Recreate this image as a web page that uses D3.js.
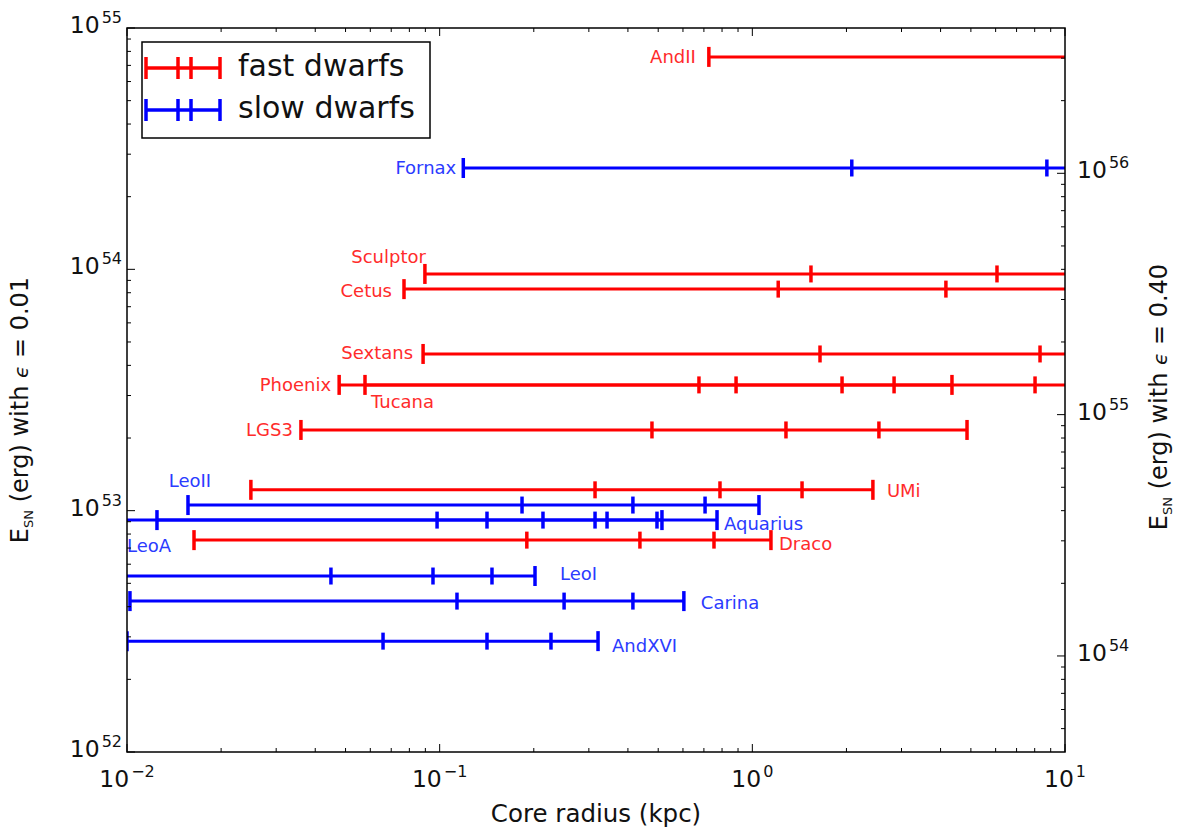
<!DOCTYPE html>
<html><head><meta charset="utf-8">
<script src="https://cdn.jsdelivr.net/npm/d3@7"></script>
<style>
body{margin:0;background:#fff}
text{font-family:"DejaVu Sans",sans-serif}
</style>
</head><body>
<svg id="c" width="1184" height="828"></svg>
<script>
// ---------------- data ----------------
const dwarfNames = ["AndII","Fornax","Sculptor","Cetus","Sextans","Phoenix","Tucana","LGS3","UMi","LeoII","LeoA","Aquarius","Draco","LeoI","Carina","AndXVI"];
const dwarfGroup = ["fast","slow","fast","fast","fast","fast","fast","fast","fast","slow","slow","slow","fast","slow","slow","slow"];
// E_SN (erg) with epsilon = 0.01
const energyEps001 = [7.59e54,2.63e54,9.57e53,8.28e53,4.46e53,3.32e53,3.32e53,2.16e53,1.22e53,1.055e53,9.14e52,9.14e52,7.55e52,5.36e52,4.22e52,2.88e52];
// core radius markers (kpc)
const coreRadii = [
  [0.726, 12],
  [0.119, 2.08, 8.75, 12],
  [0.0897, 1.54, 6.06, 12],
  [0.0769, 1.21, 4.16, 12],
  [0.0885, 1.646, 8.32, 12],
  [0.0477, 0.675, 1.936, 4.35],
  [0.0577, 0.887, 2.84, 8.02, 12],
  [0.036, 0.4775, 1.281, 2.54, 4.86],
  [0.0249, 0.314, 0.788, 1.442, 2.43],
  [0.01567, 0.1834, 0.415, 0.706, 1.05],
  [0.008, 0.0981, 0.214, 0.343, 0.514],
  [0.01247, 0.1417, 0.314, 0.4955, 0.771],
  [0.01638, 0.190, 0.437, 0.754, 1.147],
  [0.008, 0.0449, 0.0952, 0.147, 0.2018],
  [0.01022, 0.1136, 0.25, 0.415, 0.604],
  [0.01, 0.0659, 0.1417, 0.227, 0.321]
];
const xTickValues = [0.01, 0.1, 1, 10];
const xTickExponents = ["\u22122", "\u22121", "0", "1"];
const yLeftTickValues = [1e52, 1e53, 1e54, 1e55];
const yLeftExponents = ["52", "53", "54", "55"];
const yRightTickValues = [1e54, 1e55, 1e56];
const yRightExponents = ["54", "55", "56"];
const legendGroups = ["fast", "slow"];
const legendLabels = ["fast dwarfs", "slow dwarfs"];
const epsLeft = "0.01", epsRight = "0.40";
const energyRatio = 40; // 0.40 / 0.01

// ---------------- styling / layout ----------------
const lineColor = {fast: "#ff0000", slow: "#0000ff"};
const textColor = {fast: "#ff2b2b", slow: "#2b3bff"};
// label placement: which marker to attach to, anchor, pixel offsets
const labelPlace = {
  AndII:{at:"first",anchor:"end",dx:-13,dy:0},
  Fornax:{at:"first",anchor:"end",dx:-7,dy:0},
  Sculptor:{at:"first",anchor:"end",dx:1,dy:-17},
  Cetus:{at:"first",anchor:"end",dx:-12,dy:1},
  Sextans:{at:"first",anchor:"end",dx:-10,dy:-1},
  Phoenix:{at:"first",anchor:"end",dx:-8,dy:0},
  Tucana:{at:"first",anchor:"start",dx:6,dy:17},
  LGS3:{at:"first",anchor:"end",dx:-8,dy:0},
  UMi:{at:"last",anchor:"start",dx:14,dy:1},
  LeoII:{at:"first",anchor:"middle",dx:2,dy:-25},
  LeoA:{at:"axis",anchor:"start",dx:0,dy:25},
  Aquarius:{at:"last",anchor:"start",dx:7,dy:3},
  Draco:{at:"last",anchor:"start",dx:8,dy:3},
  LeoI:{at:"last",anchor:"start",dx:25,dy:-3},
  Carina:{at:"last",anchor:"start",dx:17,dy:1},
  AndXVI:{at:"last",anchor:"start",dx:14,dy:4}
};

const L = 127, R = 1065, T = 28, B = 752;
const svg = d3.select("#c");
const x = d3.scaleLog().domain([0.01, 10]).range([L, R]);
const y = d3.scaleLog().domain([1e52, 1e55]).range([B, T]);
const yR = d3.scaleLog().domain([1e52 * energyRatio, 1e55 * energyRatio]).range([B, T]);

function minors(lo, hi) {
  const out = [];
  for (let e = Math.floor(Math.log10(lo)); e <= Math.ceil(Math.log10(hi)); e++)
    for (let m = 2; m <= 9; m++) { const v = m * Math.pow(10, e); if (v > lo && v < hi) out.push(v); }
  return out;
}

svg.append("defs").append("clipPath").attr("id", "plotclip")
  .append("rect").attr("x", L).attr("y", T).attr("width", R - L).attr("height", B - T);

// ---------------- data marks ----------------
const gData = svg.append("g").attr("clip-path", "url(#plotclip)");
dwarfNames.forEach((name, i) => {
  const vals = coreRadii[i], grp = dwarfGroup[i], yy = y(energyEps001[i]);
  const g = gData.append("g").attr("stroke", lineColor[grp]).attr("stroke-width", 3).attr("fill", "none");
  g.append("line").attr("x1", x(d3.min(vals))).attr("x2", x(d3.max(vals))).attr("y1", yy).attr("y2", yy);
  vals.forEach((v, k) => {
    const h = (k === 0 || k === vals.length - 1) ? 10 : 8.5;
    g.append("line").attr("x1", x(v)).attr("x2", x(v)).attr("y1", yy - h).attr("y2", yy + h).attr("stroke-width", 3.5);
  });
});

// labels
dwarfNames.forEach((name, i) => {
  const p = labelPlace[name], vals = coreRadii[i];
  let px = p.at === "first" ? x(vals[0]) : p.at === "last" ? x(vals[vals.length - 1]) : x.range()[0];
  svg.append("text").attr("x", px + p.dx).attr("y", y(energyEps001[i]) + p.dy)
    .attr("dy", "0.36em").attr("text-anchor", p.anchor)
    .attr("font-size", 18).attr("fill", textColor[dwarfGroup[i]]).text(name);
});

// ---------------- axes ----------------
const axG = svg.append("g").attr("stroke", "#000").attr("stroke-width", 1);
function ticksH(vals, y0, dir, len) {
  vals.forEach(v => axG.append("line").attr("x1", x(v)).attr("x2", x(v)).attr("y1", y0).attr("y2", y0 + dir * len));
}
function ticksV(scale, vals, x0, dir, len) {
  vals.forEach(v => axG.append("line").attr("y1", scale(v)).attr("y2", scale(v)).attr("x1", x0).attr("x2", x0 + dir * len));
}
ticksH(xTickValues, B, -1, 8); ticksH(xTickValues, T, 1, 8);
ticksH(minors(0.01, 10), B, -1, 4); ticksH(minors(0.01, 10), T, 1, 4);
ticksV(y, yLeftTickValues, L, 1, 8); ticksV(y, minors(1e52, 1e55), L, 1, 4);
const rDom = yR.domain();
ticksV(yR, yRightTickValues, R, -1, 8); ticksV(yR, minors(rDom[0], rDom[1]), R, -1, 4);

svg.append("rect").attr("x", L).attr("y", T).attr("width", R - L).attr("height", B - T)
  .attr("fill", "none").attr("stroke", "#000").attr("stroke-width", 1.5);

function powLabel(px, py, exp, anchor) {
  const t = svg.append("text").attr("x", px).attr("y", py).attr("text-anchor", anchor)
    .attr("font-size", 23.5).attr("fill", "#111");
  t.append("tspan").text("10");
  t.append("tspan").attr("font-size", 16).attr("dy", -10).attr("dx", 2).text(exp);
}
xTickValues.forEach((v, i) => powLabel(x(v), B + 35, xTickExponents[i], "middle"));
yLeftTickValues.forEach((v, i) => powLabel(L - 5, y(v) + 5, yLeftExponents[i], "end"));
yRightTickValues.forEach((v, i) => powLabel(R + 12, yR(v) + 5, yRightExponents[i], "start"));

// axis titles
svg.append("text").attr("x", (L + R) / 2).attr("y", 822).attr("text-anchor", "middle")
  .attr("font-size", 24.5).attr("fill", "#111").text("Core radius (kpc)");

function yTitle(cx, cy, eps) {
  const t = svg.append("text").attr("transform", `translate(${cx},${cy}) rotate(-90)`)
    .attr("text-anchor", "middle").attr("font-size", 24).attr("fill", "#111");
  t.append("tspan").text("E");
  t.append("tspan").attr("font-size", 13).attr("dy", 5).text("SN");
  t.append("tspan").attr("dy", -5).text(" (erg) with ");
  t.append("tspan").attr("font-style", "italic").attr("font-size", 20).text("\u03f5");
  t.append("tspan").text(" = " + eps);
}
yTitle(28, 410, epsLeft);
yTitle(1167, 397, epsRight);

// ---------------- legend ----------------
const lg = svg.append("g");
lg.append("rect").attr("x", 142).attr("y", 42).attr("width", 288).attr("height", 96)
  .attr("fill", "#fff").attr("stroke", "#000").attr("stroke-width", 1.5);
legendGroups.forEach((grp, i) => {
  const yy = 68 + i * 42;
  const g = lg.append("g").attr("stroke", lineColor[grp]).attr("stroke-width", 3.5);
  g.append("line").attr("x1", 146).attr("x2", 220).attr("y1", yy).attr("y2", yy);
  [146, 178, 191, 220].forEach(px => g.append("line").attr("x1", px).attr("x2", px).attr("y1", yy - 11).attr("y2", yy + 11));
  lg.append("text").attr("x", 238).attr("y", yy + 8).attr("font-size", 30).attr("fill", "#111").text(legendLabels[i]);
});
</script>
</body></html>
